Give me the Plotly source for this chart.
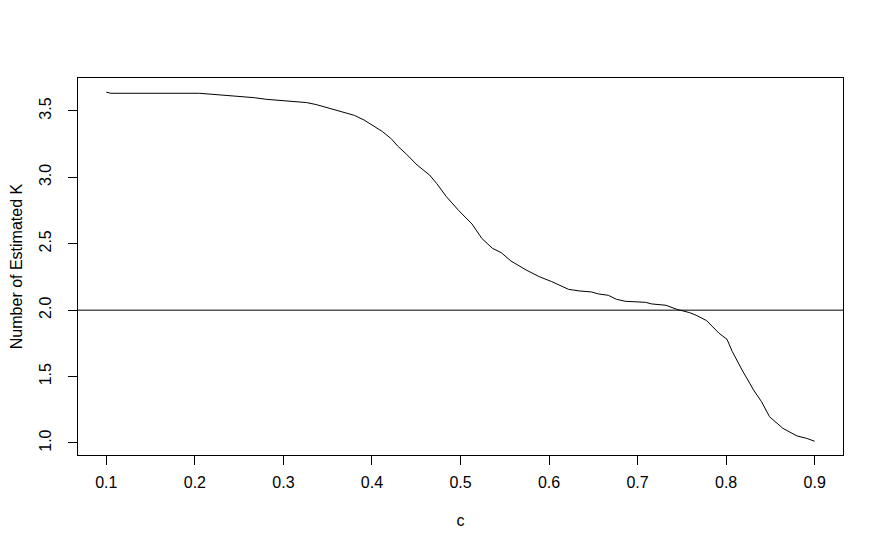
import plotly.graph_objects as go

# threshold c and the mean number of estimated K
c_values = [0.10, 0.105, 0.205, 0.227, 0.236, 0.258, 0.267, 0.280, 0.297, 0.309,
            0.326, 0.337, 0.348, 0.366, 0.380, 0.391, 0.400, 0.412, 0.422, 0.429,
            0.439, 0.451, 0.465, 0.473, 0.484, 0.498, 0.513, 0.524, 0.536, 0.546,
            0.557, 0.574, 0.589, 0.603, 0.622, 0.634, 0.648, 0.656, 0.667, 0.676,
            0.686, 0.709, 0.716, 0.732, 0.744, 0.759, 0.767, 0.778, 0.792, 0.801,
            0.807, 0.818, 0.831, 0.840, 0.849, 0.864, 0.880, 0.891, 0.900]
k_values = [3.641, 3.633, 3.633, 3.623, 3.615, 3.608, 3.600, 3.588, 3.578, 3.568,
            3.563, 3.548, 3.528, 3.492, 3.467, 3.432, 3.395, 3.344, 3.289, 3.236,
            3.174, 3.093, 3.018, 2.955, 2.855, 2.750, 2.649, 2.541, 2.466, 2.433,
            2.370, 2.303, 2.252, 2.215, 2.157, 2.145, 2.137, 2.122, 2.112, 2.082,
            2.067, 2.059, 2.047, 2.037, 2.007, 1.981, 1.959, 1.921, 1.826, 1.781,
            1.688, 1.550, 1.399, 1.311, 1.198, 1.111, 1.053, 1.035, 1.013]

x_ticks = [0.1, 0.2, 0.3, 0.4, 0.5, 0.6, 0.7, 0.8, 0.9]
y_ticks = [1.0, 1.5, 2.0, 2.5, 3.0, 3.5]
ref_k = 2

font = dict(family="Liberation Sans, Arial", size=16, color="black")

fig = go.Figure()
fig.add_trace(go.Scatter(
    x=c_values, y=k_values, mode="lines",
    line=dict(color="black", width=1), showlegend=False
))
fig.add_hline(y=ref_k, line=dict(color="black", width=1))

axis_style = dict(
    showline=True, linecolor="black", linewidth=1, mirror=True,
    ticks="outside", ticklen=9, tickcolor="black", tickwidth=1,
    showgrid=False, zeroline=False, tickfont=font, automargin=False,
)

# page body adds 8px, so margins are shifted to keep the box where R put it
fig.update_layout(
    width=884, height=553,
    plot_bgcolor="white", paper_bgcolor="white",
    margin=dict(l=70, r=49, t=70, b=106),
    font=font,
    xaxis=dict(
        range=[0.068, 0.932], tickvals=x_ticks,
        ticktext=[f"{v:.1f}" for v in x_ticks],
        ticklabelstandoff=4,
        title=dict(text="c", font=font, standoff=24),
        **axis_style
    ),
    yaxis=dict(
        range=[0.9096, 3.748], tickvals=y_ticks,
        ticktext=[f"{v:.1f}" for v in y_ticks], tickangle=-90,
        ticklabelstandoff=11,
        title=dict(text="Number of Estimated K", font=font, standoff=15),
        **axis_style
    ),
)

fig.write_html("out.html")
